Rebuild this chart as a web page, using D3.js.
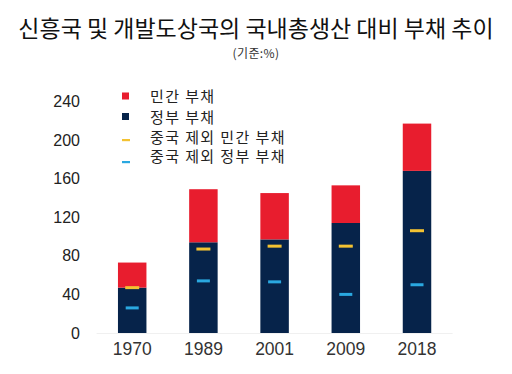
<!DOCTYPE html>
<html>
<head>
<meta charset="utf-8">
<script src="https://cdn.jsdelivr.net/npm/d3@7"></script>
<style>
  body { margin: 0; background: #fff; }
  svg text { font-family: "Liberation Sans", Arial, sans-serif; }
  svg text.kr { font-family: "Noto Sans CJK KR", "Noto Sans", sans-serif; }
</style>
</head>
<body>
<svg id="chart" width="512" height="374"></svg>
<script>
// values (% of GDP)
const years = ['1970', '1989', '2001', '2009', '2018'];
const government = [47, 94, 97, 114, 168];
const privateDebt = [26, 55, 48, 39, 49];
const privateExChina = [47, 87, 90, 90, 106];
const governmentExChina = [26, 54, 53, 40, 50];
const yTicks = [0, 40, 80, 120, 160, 200, 240];
const legendLabels = ['민간 부채', '정부 부채', '중국 제외 민간 부채', '중국 제외 정부 부채'];

const RED = '#e81d2e';
const NAVY = '#06234a';
const YELLOW = '#f3c232';
const BLUE = '#2aa8e0';

const svg = d3.select('#chart');

const x = d3.scaleBand().domain(years).range([96.6, 452.6])
	.paddingInner(0.6).paddingOuter(0.3);
const y = d3.scaleLinear().domain([0, 240]).range([333, 101.4]);

// title
svg.append('text').attr('class', 'kr')
	.attr('x', 256).attr('y', 36.5).attr('text-anchor', 'middle')
	.attr('font-size', 23).attr('fill', '#111')
	.text('신흥국 및 개발도상국의 국내총생산 대비 부채 추이');
svg.append('text').attr('class', 'kr')
	.attr('x', 256).attr('y', 58).attr('text-anchor', 'middle')
	.attr('font-size', 12).attr('letter-spacing', 0.4).attr('fill', '#333')
	.text('(기준:%)');

// baseline
svg.append('line')
	.attr('x1', x.range()[0]).attr('x2', x.range()[1])
	.attr('y1', y(0) + 0.5).attr('y2', y(0) + 0.5)
	.attr('stroke', '#f0f0f0');

// y axis, labels only
const yAxis = svg.append('g').attr('transform', 'translate(80,0)')
	.call(d3.axisLeft(y).tickValues(yTicks).tickSize(0).tickPadding(0));
yAxis.select('.domain').remove();
yAxis.selectAll('text').attr('font-size', 16).attr('fill', '#222')
	.attr('font-family', '"Liberation Sans", Arial, sans-serif');

// x axis, labels only
const xAxis = svg.append('g').attr('transform', `translate(0,${y(0)})`)
	.call(d3.axisBottom(x).tickSize(0).tickPadding(10));
xAxis.select('.domain').remove();
xAxis.selectAll('text').attr('font-size', 17.5).attr('fill', '#333')
	.attr('font-family', '"Liberation Sans", Arial, sans-serif');

const rows = years.map((yr, i) => ({
	year: yr,
	gov: government[i],
	priv: privateDebt[i],
	privEx: privateExChina[i],
	govEx: governmentExChina[i],
}));

// stacked bars
const gBars = svg.append('g');
gBars.selectAll('rect.gov').data(rows).enter().append('rect').classed('gov', true)
	.attr('x', d => x(d.year)).attr('width', x.bandwidth())
	.attr('y', d => y(d.gov)).attr('height', d => y(0) - y(d.gov))
	.attr('fill', NAVY);
gBars.selectAll('rect.priv').data(rows).enter().append('rect').classed('priv', true)
	.attr('x', d => x(d.year)).attr('width', x.bandwidth())
	.attr('y', d => y(d.gov + d.priv)).attr('height', d => y(d.gov) - y(d.gov + d.priv))
	.attr('fill', RED);

// ex-China markers
gBars.selectAll('rect.privEx').data(rows).enter().append('rect').classed('privEx', true)
	.attr('x', d => x(d.year) + x.bandwidth() / 2 - 7).attr('width', 14)
	.attr('y', d => y(d.privEx) - 1.5).attr('height', 3)
	.attr('fill', YELLOW);
gBars.selectAll('rect.govEx').data(rows).enter().append('rect').classed('govEx', true)
	.attr('x', d => x(d.year) + x.bandwidth() / 2 - 6.5).attr('width', 13)
	.attr('y', d => y(d.govEx) - 1.5).attr('height', 3)
	.attr('fill', BLUE);

// legend
const legendY = [97, 117.5, 138, 157];
const legend = svg.append('g');
legendLabels.forEach((label, i) => {
	if (i < 2) {
		legend.append('rect')
			.attr('x', 122).attr('y', legendY[i] - 4.5)
			.attr('width', 7).attr('height', 7)
			.attr('fill', i === 0 ? RED : NAVY);
	} else {
		legend.append('rect')
			.attr('x', 122).attr('y', legendY[i] + (i === 2 ? 1 : 4))
			.attr('width', 8).attr('height', 2.2)
			.attr('fill', i === 2 ? YELLOW : BLUE);
	}
	legend.append('text').attr('class', 'kr')
		.attr('x', 150).attr('y', legendY[i]).attr('dy', '0.35em')
		.attr('font-size', 15).attr('letter-spacing', 1.4).attr('fill', '#222')
		.text(label);
});
</script>
</body>
</html>
